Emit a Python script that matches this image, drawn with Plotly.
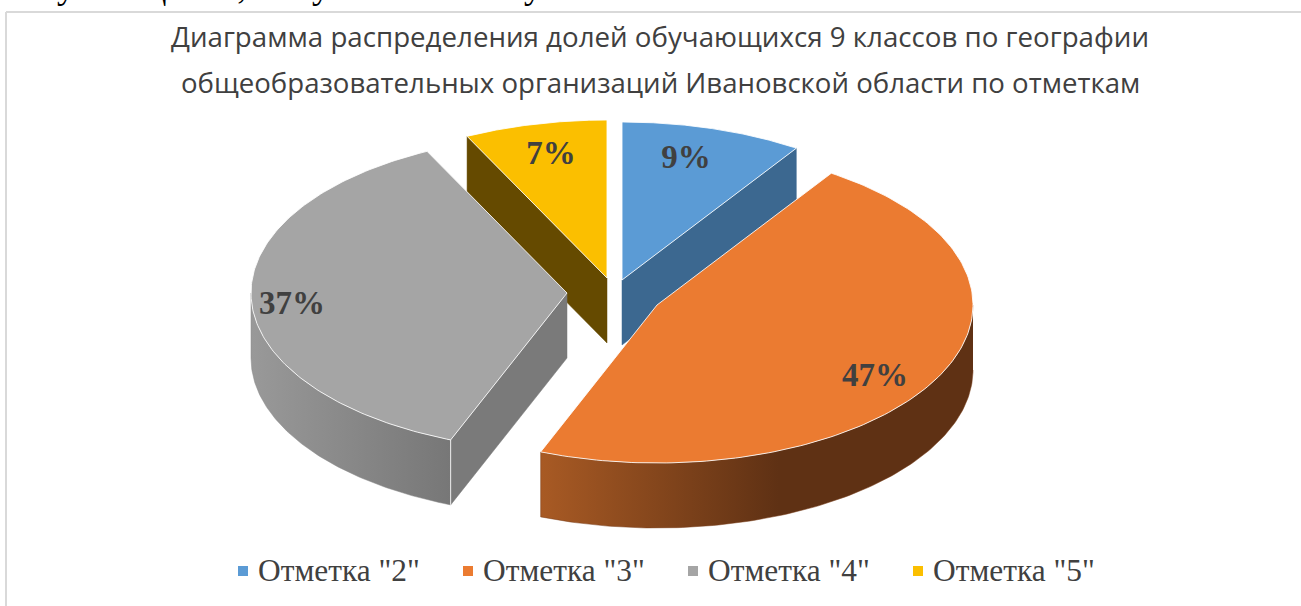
import numpy as np
import plotly.graph_objects as go

categories = ['Отметка "2"', 'Отметка "3"', 'Отметка "4"', 'Отметка "5"']
shares = [9.3, 46.7, 36.7, 7.3]
title_lines = ["Диаграмма распределения долей обучающихся 9 классов по географии",
               "общеобразовательных организаций Ивановской области по отметкам"]
clipped_text = "обучающихся, получили отметку"

# pixel-space layout of the tilted, exploded pie
W, H = 1301, 606
RX, RY, DEPTH = 316, 158, 65
apex = [(622, 280), (657, 305), (567, 293), (607, 278)]
top_colors = ["#5B9BD5", "#EB7B31", "#A5A5A5", "#FBBF00"]
cut_colors = ["#3C6890", "#5F3114", "#7A7A7A", "#654A00"]
label_pos = [(686, 160), (875, 378), (292, 306), (551, 156)]
legend_x = [243, 468, 693, 918]
LEGEND_Y = 571

edges = np.concatenate([[0], np.cumsum(shares)]) / sum(shares) * 2 * np.pi


def rim(i, t):
    ax, ay = apex[i]
    return ax + RX * np.sin(t), ay - RY * np.cos(t)


def poly(fig, x, y, color, name, line=None, gradient=None):
    fig.add_trace(go.Scatter(
        x=list(x), y=list(y), mode="lines", fill="toself", fillcolor=color,
        fillgradient=gradient,
        line=line or dict(color=color, width=0.5), name=name, showlegend=False, hoverinfo="skip"))


def cut_face(fig, i, t, color):
    px, py = rim(i, t)
    ax, ay = apex[i]
    poly(fig, [ax, px, px, ax, ax], [ay, py, py + DEPTH, ay + DEPTH, ay], color, categories[i])


def wall(fig, i, t0, t1, colors):
    t = np.linspace(t0, t1, 120)
    x, y = rim(i, t)
    poly(fig, np.r_[x, x[::-1]], np.r_[y, y[::-1] + DEPTH], colors[0], categories[i],
         gradient=dict(type="horizontal", colorscale=[[p, c] for p, c in zip(colors[1], colors[2])]))


def top(fig, i):
    t = np.linspace(edges[i], edges[i + 1], 160)
    x, y = rim(i, t)
    ax, ay = apex[i]
    poly(fig, np.r_[ax, x, ax], np.r_[ay, y, ay], top_colors[i], categories[i],
         line=dict(color="rgba(255,255,255,0.85)", width=1))


fig = go.Figure()
# back slices
cut_face(fig, 3, edges[3], cut_colors[3])
top(fig, 3)
cut_face(fig, 0, edges[1], cut_colors[0])
top(fig, 0)
# grey slice
cut_face(fig, 2, edges[2], cut_colors[2])
wall(fig, 2, edges[2], 1.5 * np.pi, ("#888888", [0, 1], ["#999999", "#777777"]))
gx, gy = rim(2, edges[2])
fig.add_trace(go.Scatter(x=[gx, gx], y=[gy, gy + DEPTH], mode="lines",
                         line=dict(color="rgba(255,255,255,0.85)", width=1),
                         showlegend=False, hoverinfo="skip"))
top(fig, 2)
# orange slice
wall(fig, 1, 0.5 * np.pi, edges[2], ("#7A3F1A", [0, 0.55, 0.6, 1],
                                     ["#A85A24", "#5F3114", "#5F3114", "#5F3114"]))
top(fig, 1)

# data labels
for i, s in enumerate(shares):
    fig.add_trace(go.Scatter(
        x=[label_pos[i][0]], y=[label_pos[i][1]], mode="text", text=[f"{round(s)}%"],
        textposition="middle center",
        textfont=dict(family="Liberation Serif", size=33, color="#404040", weight="bold"),
        showlegend=False, hoverinfo="skip"))

# legend
for i, c in enumerate(categories):
    fig.add_trace(go.Scatter(
        x=[legend_x[i]], y=[LEGEND_Y], mode="markers", name=c,
        marker=dict(symbol="square", size=10, color=top_colors[i]),
        showlegend=False, hoverinfo="skip"))
    fig.add_trace(go.Scatter(
        x=[legend_x[i] + 15], y=[LEGEND_Y + 2], mode="text", text=[c], name=c,
        textposition="middle right",
        textfont=dict(family="Liberation Serif", size=31.4, color="#404040"),
        showlegend=False, hoverinfo="skip"))

anns = [dict(x=660, y=35.5, text=title_lines[0], font=dict(family="Open Sans", size=27.7, color="#404040")),
        dict(x=660, y=82, text=title_lines[1], font=dict(family="Open Sans", size=27.6, color="#404040")),
        dict(x=19, y=8, text=clipped_text, xanchor="left", yanchor="bottom",
             font=dict(family="Liberation Serif", size=37, color="#000000"))]
fig.update_layout(
    width=W, height=H, margin=dict(l=0, r=0, t=0, b=0),
    paper_bgcolor="white", plot_bgcolor="white",
    xaxis=dict(range=[0, W], visible=False, fixedrange=True),
    yaxis=dict(range=[H, 0], visible=False, fixedrange=True),
    annotations=[dict(a, xref="x", yref="y", showarrow=False) for a in anns],
    shapes=[dict(type="line", xref="x", yref="y", x0=6, x1=W, y0=12, y1=12,
                 line=dict(color="#D9D9D9", width=2)),
            dict(type="line", xref="x", yref="y", x0=6, x1=6, y0=12, y1=H,
                 line=dict(color="#D9D9D9", width=2))],
)
fig.write_html("out.html", post_script="document.body.style.margin='0';",
               config={"displayModeBar": False})
